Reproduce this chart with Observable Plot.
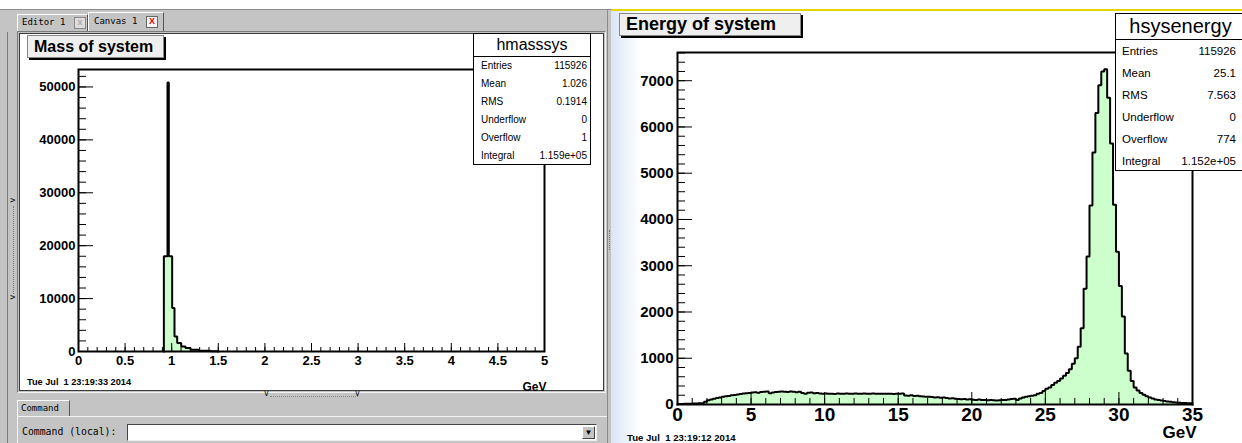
<!DOCTYPE html>
<html><head><meta charset="utf-8">
<script src="https://cdn.jsdelivr.net/npm/d3@7"></script>
<script src="https://cdn.jsdelivr.net/npm/@observablehq/plot@0.6"></script>
<style>
body{margin:0;width:1242px;height:443px;overflow:hidden;background:#fff;position:relative;font-family:"Liberation Sans",Arial,sans-serif;}
.a{position:absolute;box-sizing:border-box;}
.mono{font-family:"DejaVu Sans Mono","Liberation Mono",monospace;font-size:9px;color:#000;white-space:pre;}
.tab{border-top:1px solid #fff;border-left:1px solid #fff;border-right:1px solid #555;}
.xi{position:absolute;width:10px;height:10px;border:1px solid #888;background:#ddd;font:bold 9px/8px "Liberation Sans",Arial;text-align:center;}
.titlebox{background:#efefef;border:1px solid #888;box-shadow:2px 2px 0 #000;font-weight:bold;color:#000;white-space:nowrap;}
.stats{background:#fff;border:1px solid #000;color:#000;}
.stats .t{text-align:center;border-bottom:1px solid #000;}
.stats .r{position:relative;}
.stats .r span{position:absolute;}
.date{font-weight:bold;white-space:pre;color:#000;}
</style></head><body>
<!-- left window chrome -->
<div class="a" style="left:0;top:9px;width:611px;height:434px;background:#c4c4c4;border-top:1px solid #8c8c8c;"></div>
<div class="a" style="left:7px;top:32px;width:1px;height:411px;background:#7c7c7c;"></div>
<div class="a" style="left:13px;top:206px;width:0;height:88px;border-left:1px dotted #777;"></div>
<div class="a mono" style="left:10px;top:195px;">&gt;</div>
<div class="a mono" style="left:10px;top:292px;">&gt;</div>
<div class="a tab" style="left:17px;top:14px;width:71px;height:18px;"></div>
<div class="a mono" style="left:22px;top:17px;">Editor 1</div>
<div class="xi" style="left:74px;top:17px;color:#aaa;">x</div>
<div class="a tab" style="left:88px;top:12px;width:76px;height:20px;background:#c4c4c4;"></div>
<div class="a mono" style="left:94px;top:16px;">Canvas 1</div>
<div class="xi" style="left:146px;top:16px;color:#e00000;background:#f4f4f4;border-color:#666;">X</div>
<!-- left canvas frame -->
<div class="a" style="left:17px;top:31px;width:589px;height:362px;border:1px solid;border-color:#7a7a7a #f4f4f4 #f4f4f4 #7a7a7a;"></div>
<div class="a" style="left:19px;top:33px;width:585px;height:358px;background:#fff;border:1px solid #3a3a3a;"></div>
<!-- splitter -->
<div class="a" style="left:270px;top:396px;width:88px;height:0;border-top:1px dotted #888;"></div>
<div class="a mono" style="left:264px;top:389px;font-size:8px;">v</div>
<div class="a mono" style="left:355px;top:389px;font-size:8px;">v</div>
<!-- command tab -->
<div class="a tab" style="left:17px;top:400px;width:53px;height:17px;"></div>
<div class="a mono" style="left:21px;top:403px;">Command</div>
<div class="a" style="left:17px;top:416px;width:590px;height:30px;border-top:1px solid #f4f4f4;border-left:1px solid #f4f4f4;"></div>
<div class="a mono" style="left:22px;top:426px;font-size:9.8px;">Command (local):</div>
<div class="a" style="left:127px;top:424px;width:470px;height:17px;background:#fff;border:1px solid;border-color:#444 #eee #eee #444;"></div>
<div class="a" style="left:582px;top:426px;width:13px;height:13px;background:#c4c4c4;border:1px solid;border-color:#fff #444 #444 #fff;font-size:8px;line-height:11px;text-align:center;">&#9660;</div>
<!-- window divider -->
<div class="a" style="left:607px;top:9px;width:1px;height:434px;background:#8a8a8a;"></div>
<div class="a" style="left:609px;top:230px;width:0;height:20px;border-left:1px dotted #777;"></div>
<!-- right window -->
<div class="a" style="left:611px;top:9px;width:631px;height:434px;background:#fff;border-top:2px solid #e4d400;"></div>
<div class="a" style="left:611px;top:11px;width:30px;height:432px;background:linear-gradient(to right,#d9e6f5,rgba(255,255,255,0));"></div>

<div id="leftplot" class="a" style="left:20px;top:34px;"></div>
<div id="rightplot" class="a" style="left:613px;top:11px;"></div>

<!-- title boxes, stats, dates -->
<div class="a titlebox" style="left:27px;top:35px;width:137px;height:23px;font-size:16px;line-height:21px;padding-left:6px;">Mass of system</div>
<div class="a stats" style="left:473px;top:33px;width:118px;height:132px;">
  <div class="t" style="height:22px;font-size:16px;line-height:22px;">hmasssys</div>
  <div id="lstats" style="font-size:10px;"></div>
</div>
<div class="a date" style="left:27px;top:377px;font-size:9.2px;">Tue Jul  1 23:19:33 2014</div>

<div class="a titlebox" style="left:619px;top:13px;width:182px;height:23px;font-size:18px;line-height:21px;padding-left:6px;">Energy of system</div>
<div class="a stats" style="left:1115px;top:13px;width:131px;height:158px;">
  <div class="t" style="height:25px;font-size:20px;line-height:24px;">hsysenergy</div>
  <div id="rstats" style="font-size:11.5px;"></div>
</div>
<div class="a date" style="left:627px;top:432px;font-size:9.6px;">Tue Jul  1 23:19:12 2014</div>

<script>
// ---------- data ----------
const massEdges  = [0.916, 0.955, 0.969, 1.005, 1.030, 1.059, 1.102, 1.148, 1.202, 1.291, 1.416, 1.5];
const massCounts = [18000, 50850, 18000, 8200, 2840, 1590, 950, 640, 320, 130, 40];

const energyMin = 0;
const energyBinWidth = 0.2;
const energyCounts = [
  10, 12, 15, 15, 18, 20, 22, 25, 28, 60,
  90, 110, 125, 140, 150, 165, 180, 185, 200, 205,
  215, 225, 240, 245, 250, 260, 265, 255, 270, 275,
  280, 245, 260, 270, 275, 280, 275, 270, 280, 275,
  265, 275, 250, 235, 255, 260, 245, 250, 240, 235,
  240, 230, 235, 225, 240, 235, 230, 240, 230, 235,
  240, 230, 235, 240, 235, 230, 240, 235, 230, 235,
  230, 235, 230, 225, 235, 230, 240, 195, 190, 200,
  185, 190, 180, 175, 165, 170, 160, 150, 155, 145,
  150, 140, 130, 135, 125, 120, 115, 120, 110, 115,
  105, 100, 110, 95, 100, 90, 95, 90, 88, 92,
  95, 100, 110, 120, 125, 95, 130, 150, 165, 180,
  190, 200, 230, 250, 290, 340, 370, 420, 470, 510,
  560, 620, 680, 760, 880, 1000, 1250, 1650, 2500, 3200,
  4300, 5450, 6300, 6900, 7200, 7250, 6630, 5640, 4320, 3300,
  2560, 1900, 1100, 730, 510, 370, 300, 250, 210, 180,
  150, 130, 110, 95, 85, 75, 65, 58, 50, 45,
  40, 35, 30, 28, 25
];

const massXDomain = [0, 5];
const massYDomain = [0, 53300];
const massXMajor = [0, 0.5, 1, 1.5, 2, 2.5, 3, 3.5, 4, 4.5, 5];
const massXMinorStep = 0.1;
const massYMajor = [0, 10000, 20000, 30000, 40000, 50000];
const massYMinorStep = 2000;

const energyXDomain = [0, 35];
const energyYDomain = [0, 7610];
const energyXMajor = [0, 5, 10, 15, 20, 25, 30, 35];
const energyXMinorStep = 1;
const energyYMajor = [0, 1000, 2000, 3000, 4000, 5000, 6000, 7000];
const energyYMinorStep = 200;

const massStatsLabels = ["Entries", "Mean", "RMS", "Underflow", "Overflow", "Integral"];
const massStatsValues = ["115926", "1.026", "0.1914", "0", "1", "1.159e+05"];
const energyStatsLabels = ["Entries", "Mean", "RMS", "Underflow", "Overflow", "Integral"];
const energyStatsValues = ["115926", "25.1", "7.563", "0", "774", "1.152e+05"];

// ---------- drawing ----------
function minorTicks(domain, step) {
  const n = Math.round((domain[1] - domain[0]) / step);
  const out = [];
  for (let i = 0; i <= n; i++) out.push(+(domain[0] + i * step).toFixed(6));
  return out;
}

function histPlot(o) {
  const {edges, counts, xDomain, yDomain, xMajor, xMinor, yMajor, yMinor, box, frame} = o;
  const fw = frame.r - frame.l, fh = frame.b - frame.t;
  const n = counts.length;
  const outline = [{x: edges[0], y: 0}];
  counts.forEach((c, i) => outline.push({x: edges[i], y: c}));
  outline.push({x: edges[n], y: counts[n - 1]});
  outline.push({x: edges[n], y: 0});
  return Plot.plot({
    width: box.w, height: box.h,
    marginLeft: frame.l - box.x, marginRight: box.x + box.w - frame.r,
    marginTop: frame.t - box.y, marginBottom: box.y + box.h - frame.b,
    x: {domain: xDomain, axis: null},
    y: {domain: yDomain, axis: null},
    style: {background: "transparent", overflow: "visible", fontFamily: "Liberation Sans, Arial, sans-serif", color: "black"},
    marks: [
      Plot.areaY(outline, {x: "x", y: "y", curve: "step-after", fill: "#ccffcc"}),
      Plot.ruleX(xMinor, {stroke: "black", strokeWidth: 1, insetTop: fh - o.xMinorLen}),
      Plot.ruleX(xMajor, {stroke: "black", strokeWidth: 1, insetTop: fh - o.xMajorLen}),
      Plot.ruleY(yMinor, {stroke: "black", strokeWidth: 1, insetRight: fw - o.yMinorLen}),
      Plot.ruleY(yMajor, {stroke: "black", strokeWidth: 1, insetRight: fw - o.yMajorLen}),
      Plot.line(outline, {x: "x", y: "y", curve: "step-after", stroke: "black", strokeWidth: 2, strokeLinejoin: "miter", strokeLinecap: "square"}),
      Plot.frame({stroke: "black", strokeWidth: 2}),
      Plot.text(xMajor, {x: d => d, text: d => String(d), frameAnchor: "bottom", lineAnchor: "top", dy: o.xLabelDy, fontSize: o.xFont, fontWeight: "bold", fill: "black"}),
      Plot.text(yMajor, {y: d => d, text: d => String(d), frameAnchor: "left", textAnchor: "end", dx: o.yLabelDx, fontSize: o.yFont, fontWeight: "bold", fill: "black"}),
      Plot.text(["GeV"], {text: d => d, frameAnchor: "bottom-right", textAnchor: "end", lineAnchor: "top", dx: o.gevDx, dy: o.gevDy, fontSize: o.gevFont, fontWeight: "bold", fill: "black"})
    ]
  });
}

document.getElementById("leftplot").append(histPlot({
  edges: massEdges, counts: massCounts,
  xDomain: massXDomain, yDomain: massYDomain,
  xMajor: massXMajor, xMinor: minorTicks(massXDomain, massXMinorStep),
  yMajor: massYMajor, yMinor: minorTicks([0, 52000], massYMinorStep),
  box: {x: 20, y: 34, w: 582, h: 356},
  frame: {l: 78, r: 544, t: 69, b: 351},
  xMinorLen: 4, xMajorLen: 8, yMinorLen: 8, yMajorLen: 15,
  xFont: 13, yFont: 13, gevFont: 12, xLabelDy: 4, yLabelDx: -3, gevDx: 2, gevDy: 31
}));

const energyEdges = energyCounts.map((_, i) => energyMin + i * energyBinWidth).concat([energyMin + energyCounts.length * energyBinWidth]);
document.getElementById("rightplot").append(histPlot({
  edges: energyEdges, counts: energyCounts,
  xDomain: energyXDomain, yDomain: energyYDomain,
  xMajor: energyXMajor, xMinor: minorTicks(energyXDomain, energyXMinorStep),
  yMajor: energyYMajor, yMinor: minorTicks([0, 7600], energyYMinorStep),
  box: {x: 613, y: 11, w: 629, h: 432},
  frame: {l: 677, r: 1192, t: 52, b: 404},
  xMinorLen: 6, xMajorLen: 12, yMinorLen: 8, yMajorLen: 15,
  xFont: 19, yFont: 15, gevFont: 17, xLabelDy: 3, yLabelDx: -4, gevDx: 4, gevDy: 21
}));

function fillStats(id, labels, values, rowH, padL, padR) {
  const el = document.getElementById(id);
  labels.forEach((lab, i) => {
    const r = document.createElement("div");
    r.className = "r";
    r.style.height = rowH + "px";
    r.style.lineHeight = rowH + "px";
    r.innerHTML = `<span style="left:${padL}px">${lab}</span><span style="right:${padR}px">${values[i]}</span>`;
    el.append(r);
  });
}
fillStats("lstats", massStatsLabels, massStatsValues, 18, 7, 3);
fillStats("rstats", energyStatsLabels, energyStatsValues, 22, 6, 9);
</script>
</body></html>
